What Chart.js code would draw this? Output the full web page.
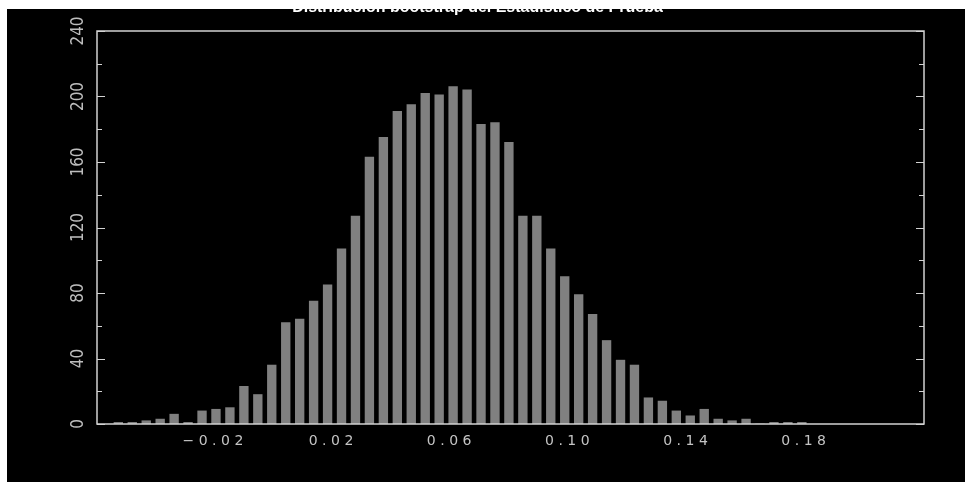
<!DOCTYPE html>
<html>
<head>
<meta charset="utf-8">
<script src="https://cdn.jsdelivr.net/npm/chart.js@4/dist/chart.umd.min.js"></script>
<style>
  html, body { margin: 0; padding: 0; background: #ffffff; }
  #frame { position: absolute; left: 7px; top: 9px; width: 958px; height: 473px; background: #000000; overflow: hidden; }
  #hist { position: absolute; left: 0; top: -9px; background: #000000; }
</style>
</head>
<body>
<div id="frame"><canvas id="hist" width="958" height="482"></canvas></div>
<script>
// Bootstrap distribution of the test statistic: bin centres and counts
const binCenters = [
  -0.05278, -0.04806, -0.04333, -0.03861, -0.03389, -0.02917, -0.02444, -0.01972, -0.01500, -0.01027,
  -0.00555, -0.00083, 0.00390, 0.00862, 0.01334, 0.01807, 0.02279, 0.02751, 0.03223, 0.03696,
  0.04168, 0.04640, 0.05113, 0.05585, 0.06057, 0.06530, 0.07002, 0.07474, 0.07946, 0.08419,
  0.08891, 0.09363, 0.09836, 0.10308, 0.10780, 0.11253, 0.11725, 0.12197, 0.12669, 0.13142,
  0.13614, 0.14086, 0.14559, 0.15031, 0.15503, 0.15976, 0.16448, 0.16920, 0.17392, 0.17865
];
const counts = [
  1, 1, 2, 3, 6, 1, 8, 9, 10, 23,
  18, 36, 62, 64, 75, 85, 107, 127, 163, 175,
  191, 195, 202, 201, 206, 204, 183, 184, 172, 127,
  127, 107, 90, 79, 67, 51, 39, 36, 16, 14,
  8, 5, 9, 3, 2, 3, 0, 1, 1, 1
];
const xTickValues = [-0.02, 0.02, 0.06, 0.10, 0.14, 0.18];
const yTickValues = [0, 20, 40, 60, 80, 100, 120, 140, 160, 180, 200, 220, 240];
const yLabelStep = 40;
const titleText = 'Distribucion bootstrap del Estadistico de Prueba';

const axisColor = '#d2d2d2';
const labelColor = '#c4c4c4';
const barColor = '#808080';

// Plot box with inward tick marks on both vertical sides; wide letter spacing for the x labels
const boxPlugin = {
  id: 'boxPlugin',
  beforeDraw(chart) {
    const ctx = chart.ctx;
    ctx.letterSpacing = '0px';
    ctx.save();
    ctx.fillStyle = '#000000';
    ctx.fillRect(0, 0, chart.width, chart.height);
    ctx.restore();
  },
  afterDatasetsDraw(chart) {
    const ctx = chart.ctx;
    const a = chart.chartArea;
    const ys = chart.scales.y;
    ctx.save();
    ctx.strokeStyle = axisColor;
    ctx.lineWidth = 1.5;
    ctx.strokeRect(a.left, a.top, a.right - a.left, a.bottom - a.top);
    ctx.lineWidth = 1;
    ys.ticks.forEach(t => {
      const py = Math.round(ys.getPixelForValue(t.value)) + 0.5;
      const len = (t.value % yLabelStep === 0) ? 8 : 5;
      ctx.beginPath();
      ctx.moveTo(a.left, py); ctx.lineTo(a.left + len, py);
      ctx.moveTo(a.right, py); ctx.lineTo(a.right - len, py);
      ctx.stroke();
    });
    ctx.restore();
    ctx.letterSpacing = '4.5px';
  },
  afterDraw(chart) {
    chart.ctx.letterSpacing = '0px';
  }
};

const fmt = v => v.toFixed(2).replace('-', '\u2212');

new Chart(document.getElementById('hist'), {
  type: 'bar',
  data: {
    datasets: [{
      data: binCenters.map((x, i) => ({ x: x, y: counts[i] })),
      backgroundColor: barColor,
      borderWidth: 0,
      barThickness: 8.7
    }]
  },
  options: {
    responsive: false,
    animation: false,
    events: [],
    layout: { padding: { left: 24, right: 41, top: 0, bottom: 0 } },
    plugins: {
      legend: { display: false },
      tooltip: { enabled: false },
      title: {
        display: true,
        text: titleText,
        color: '#ffffff',
        font: { family: 'Liberation Sans', size: 16, weight: 'bold', lineHeight: 1.2 },
        padding: { top: -1.6, bottom: 13.4 }
      }
    },
    scales: {
      x: {
        type: 'linear',
        min: -0.06,
        max: 0.22,
        offset: false,
        grid: { display: false, drawTicks: false },
        border: { display: false },
        afterBuildTicks: s => { s.ticks = xTickValues.map(v => ({ value: v })); },
        afterFit: s => { s.height = 58; },
        ticks: {
          z: 1,
          padding: 8.5,
          color: labelColor,
          maxRotation: 0,
          font: { family: 'DejaVu Sans', size: 14 },
          callback: v => fmt(v)
        }
      },
      y: {
        type: 'linear',
        min: 0,
        max: 240,
        grid: { display: false, drawTicks: false },
        border: { display: false },
        afterBuildTicks: s => { s.ticks = yTickValues.map(v => ({ value: v })); },
        afterFit: s => { s.width = 66; },
        ticks: {
          z: 0,
          padding: 4,
          color: '#bdbdbd',
          minRotation: 90,
          maxRotation: 90,
          crossAlign: 'center',
          font: { family: "'Liberation Sans Narrow', 'DejaVu Sans Condensed', 'Liberation Sans'", size: 17 },
          callback: v => (v % yLabelStep === 0 ? String(v) : '')
        }
      }
    }
  },
  plugins: [boxPlugin]
});
</script>
</body>
</html>
